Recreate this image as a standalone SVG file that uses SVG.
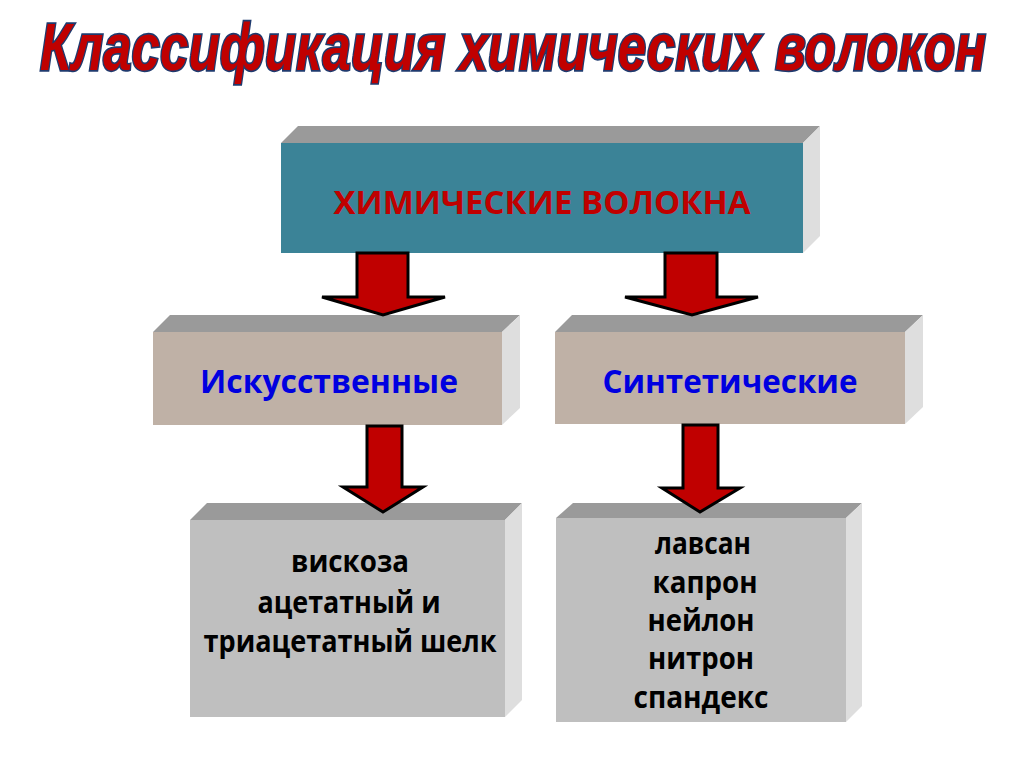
<svg xmlns="http://www.w3.org/2000/svg" width="1024" height="767" viewBox="0 0 1024 767">
<style>
.top{fill:#9a9a9a}
.side{fill:#dedede}
.teal{fill:#3b8397}
.taupe{fill:#bfb1a6}
.grey{fill:#bfbfbf}
.t{font-family:"Open Sans","Liberation Sans",sans-serif;font-weight:bold;text-anchor:middle}
.arrow{fill:#c00000;stroke:#000;stroke-width:3;stroke-linejoin:miter}
</style>
<rect width="1024" height="767" fill="#fff"/>
<g id="title" transform="translate(513,70) scale(1,1.27)">
<text x="0" y="0" font-family="'Liberation Sans',Arial,sans-serif" font-weight="bold" font-style="italic" font-size="52" fill="#c00000" stroke="#1f3a6e" stroke-width="2.6" paint-order="stroke fill" text-anchor="middle" textLength="946" lengthAdjust="spacingAndGlyphs">Классификация химических волокон</text>
</g>
<g id="chem">
<polygon class="top" points="281,143 298,126 820,126 803,143"/>
<polygon class="side" points="803,143 820,126 820,236 803,253"/>
<rect class="teal" x="281" y="143" width="522" height="110"/>
<text class="t" x="542" y="214" font-size="32" fill="#c00000" textLength="417" lengthAdjust="spacingAndGlyphs">ХИМИЧЕСКИЕ ВОЛОКНА</text>
</g>
<g id="art">
<polygon class="top" points="153,332 170,315 520,315 502,332"/>
<polygon class="side" points="502,332 520,315 520,408 502,425"/>
<rect class="taupe" x="153" y="332" width="349" height="93"/>
<text class="t" x="329" y="393" font-size="32" fill="#0000e0" textLength="258" lengthAdjust="spacingAndGlyphs">Искусственные</text>
</g>
<g id="syn">
<polygon class="top" points="555,332 572,315 923,315 905,332"/>
<polygon class="side" points="905,332 923,315 923,407 905,424"/>
<rect class="taupe" x="555" y="332" width="350" height="92"/>
<text class="t" x="730" y="393" font-size="32" fill="#0000e0" textLength="255" lengthAdjust="spacingAndGlyphs">Синтетические</text>
</g>
<g id="art-list">
<polygon class="top" points="190,520 207,503 522,503 505,520"/>
<polygon class="side" points="505,520 522,503 522,700 505,717"/>
<rect class="grey" x="190" y="520" width="315" height="197"/>
<text class="t" x="350" y="572" font-size="30" fill="#000" textLength="118" lengthAdjust="spacingAndGlyphs">вискоза</text>
<text class="t" x="349" y="613" font-size="30" fill="#000" textLength="183" lengthAdjust="spacingAndGlyphs">ацетатный и</text>
<text class="t" x="350" y="652" font-size="30" fill="#000" textLength="293" lengthAdjust="spacingAndGlyphs">триацетатный шелк</text>
</g>
<g id="syn-list">
<polygon class="top" points="556,518 573,503 862,503 846,518"/>
<polygon class="side" points="846,518 862,503 862,706 846,722"/>
<rect class="grey" x="556" y="518" width="290" height="204"/>
<text class="t" x="703" y="554" font-size="30" fill="#000" textLength="96" lengthAdjust="spacingAndGlyphs">лавсан</text>
<text class="t" x="705" y="593" font-size="30" fill="#000" textLength="105" lengthAdjust="spacingAndGlyphs">капрон</text>
<text class="t" x="701" y="631" font-size="30" fill="#000" textLength="107" lengthAdjust="spacingAndGlyphs">нейлон</text>
<text class="t" x="701" y="669" font-size="30" fill="#000" textLength="106" lengthAdjust="spacingAndGlyphs">нитрон</text>
<text class="t" x="701" y="708" font-size="30" fill="#000" textLength="135" lengthAdjust="spacingAndGlyphs">спандекс</text>
</g>
<g id="connectors">
<path class="arrow" d="M357,253 L408,253 L408,297 L445,297 L383,315 L322,297 L357,297 Z"/>
<path class="arrow" d="M665,253 L717,253 L717,297 L758,297 L692,315 L625,297 L665,297 Z"/>
<path class="arrow" d="M367,426 L402,426 L402,487 L423,487 L383,512 L343,487 L367,487 Z"/>
<path class="arrow" d="M683,425 L718,425 L718,488 L740,488 L700,512 L662,488 L683,488 Z"/>
</g>
</svg>
